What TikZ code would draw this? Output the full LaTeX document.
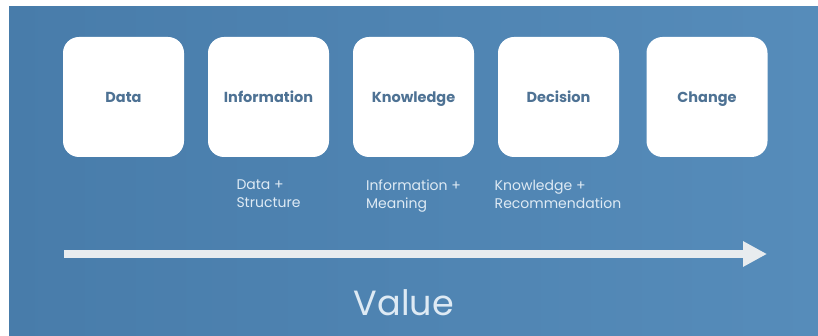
\documentclass[tikz,border=0pt]{standalone}
\usepackage{fontspec}
\setmainfont{Poppins}
\usetikzlibrary{arrows.meta}
\definecolor{bgL}{RGB}{72,124,170}
\definecolor{bgR}{RGB}{86,140,186}
\definecolor{boxtxt}{RGB}{78,114,148}
\definecolor{subtxt}{RGB}{222,234,244}
\definecolor{arrowc}{RGB}{232,236,239}
\tikzset{
  stage/.style={draw=none, fill=white, rounded corners=16pt, minimum width=121pt, minimum height=120pt, inner sep=0pt, font=\fontsize{14.5}{17}\selectfont\bfseries, text=boxtxt, text height=13pt, text depth=1pt},
  sublabel/.style={align=left, anchor=north, inner sep=0pt, font=\fontsize{14}{18}\selectfont, text=subtxt},
  valuearrow/.style={draw=arrowc, line width=8pt, -{Triangle[length=24pt,width=24pt]}}
}
\begin{document}
\begin{tikzpicture}[x=1pt,y=-1pt]
\useasboundingbox (0,0) rectangle (818,336);
\fill[white] (0,0) rectangle (818,336);
\shade[left color=bgL, right color=bgR] (9,7) rectangle (818,336);
\node[stage] (data) at (123.5,97) {Data};
\node[stage] (info) at (268.5,97) {Information};
\node[stage] (know) at (413.5,97) {Knowledge};
\node[stage] (deci) at (558.5,97) {Decision};
\node[stage] (chan) at (707,97) {Change};
\node[sublabel] (s1) at (268.5,180) {Data +\\Structure};
\node[sublabel] (s2) at (413.5,180) {Information +\\Meaning};
\node[sublabel] (s3) at (558,180) {Knowledge +\\Recommendation};
\coordinate (as) at (64,254);
\coordinate (ae) at (767,254);
\draw[valuearrow] (as) -- (ae);
\node[text=subtxt, font=\fontsize{35}{38}\selectfont, inner sep=0pt] (val) at (404,303) {Value};
\end{tikzpicture}
\end{document}
